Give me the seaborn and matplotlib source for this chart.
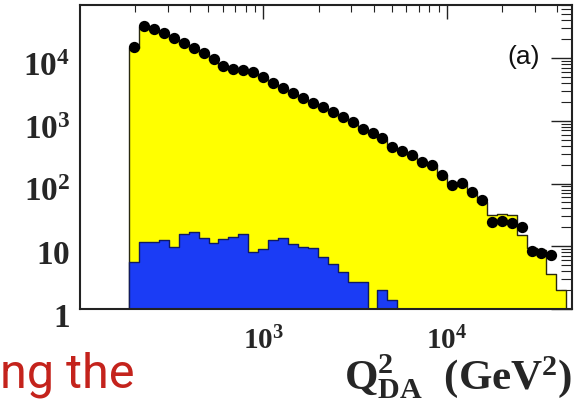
import numpy as np
import pandas as pd
import matplotlib
matplotlib.use("Agg")
import matplotlib.pyplot as plt
import matplotlib.transforms as mtrans
import seaborn as sns
from matplotlib.ticker import LogLocator, NullFormatter

# ---- data ----
q2_low, q2_high, n_bins = 185.0, 44700.0, 44

data_counts = [15000, 32400, 29000, 25000, 20800, 17300, 14400, 12000, 9640, 7460,
               6680, 6440, 5980, 4980, 4000, 3330, 2770, 2300, 1920, 1660,
               1380, 1150, 955, 739, 638, 531, 382, 330, 285, 220,
               197, 137, 95, 102, 73, 55, 24.3, 25.3, 23.5, 20.3,
               8.4, 7.8, 7.3]

mc_counts = [14200, 30800, 27900, 24300, 20300, 16900, 14100, 11700, 9400, 7300,
             6550, 6300, 5850, 4900, 3920, 3280, 2720, 2260, 1890, 1620,
             1360, 1130, 940, 730, 625, 520, 380, 325, 280, 218,
             194, 136, 97, 99, 72, 51, 32, 33, 32, 15.1,
             9.4, 8.7, 3.6, 2.0]

bg_counts = [5.6, 11.7, 11.7, 12.6, 9.7, 15.7, 16.9, 13.5, 11.3, 13.1,
             14.0, 15.7, 8.1, 9.0, 12.6, 13.5, 10.9, 9.7, 9.4, 6.7,
             5.2, 3.9, 2.7, 2.7, 0, 2.0, 1.4, 0, 0, 0,
             0, 0, 0, 0, 0, 0, 0, 0, 0, 0,
             0, 0, 0, 0]

x_tick_values = [1e3, 1e4]
x_tick_labels = [r"$\mathbf{10^{3}}$", r"$\mathbf{10^{4}}$"]
y_tick_values = [1, 10, 100, 1e3, 1e4]
y_tick_labels = [r"$\mathbf{1}$", r"$\mathbf{10}$", r"$\mathbf{10^{2}}$",
                 r"$\mathbf{10^{3}}$", r"$\mathbf{10^{4}}$"]

edges = np.geomspace(q2_low, q2_high, n_bins + 1)
centers = np.sqrt(edges[:-1] * edges[1:])
bin_edges = list(edges)

hist_df = pd.DataFrame({"q2": centers, "mc": mc_counts, "bg": bg_counts})
pts_df = pd.DataFrame({"q2": centers[:len(data_counts)], "n": data_counts})

# ---- style ----
sns.set_theme(style="white")
plt.rcParams["mathtext.fontset"] = "custom"
plt.rcParams["mathtext.rm"] = "Liberation Serif"
plt.rcParams["mathtext.bf"] = "Liberation Serif:bold"
plt.rcParams["mathtext.it"] = "Liberation Serif:italic"
plt.rcParams["font.family"] = ["Liberation Serif", "DejaVu Sans"]

fig = plt.figure(figsize=(5.77, 4.19), dpi=100)
ax = fig.add_axes([80 / 577, 110 / 419, 492 / 577, 304 / 419])

sns.histplot(data=hist_df, x="q2", weights="mc", bins=bin_edges, element="step", fill=True,
             color="#ffff00", alpha=1, edgecolor="#2a2a10", linewidth=1.0, ax=ax)
sns.histplot(data=hist_df, x="q2", weights="bg", bins=bin_edges, element="step", fill=True,
             color="#1b3cf5", alpha=1, edgecolor="#101a60", linewidth=1.0, ax=ax)
sns.scatterplot(data=pts_df, x="q2", y="n", color="black", s=66,
                edgecolor="black", linewidth=0, zorder=5, ax=ax)

ax.set_xscale("log")
ax.set_yscale("log")
ax.set_xlim(100, 4.8e4)
ax.set_ylim(1, 7e4)

ax.set_xticks(x_tick_values)
ax.set_xticklabels(x_tick_labels, fontsize=21)
ax.set_yticks(y_tick_values)
ax.set_yticklabels(y_tick_labels, fontsize=24)
ax.xaxis.set_minor_locator(LogLocator(base=10, subs=np.arange(2, 10)))
ax.yaxis.set_minor_locator(LogLocator(base=10, subs=np.arange(2, 10)))
ax.xaxis.set_minor_formatter(NullFormatter())
ax.yaxis.set_minor_formatter(NullFormatter())

ax.tick_params(which="both", direction="in", top=True, right=True, color="#222222")
ax.tick_params(axis="x", which="major", length=10, width=1.0, pad=13)
ax.tick_params(axis="x", which="minor", length=5, width=0.8)
ax.tick_params(axis="y", which="major", length=15, width=1.0, pad=7)
ax.tick_params(axis="y", which="minor", length=8, width=0.8)

for sp in ax.spines.values():
    sp.set_color("#222222")
    sp.set_linewidth(1.5)

ax.set_ylabel("")
ax.set_xlabel(r"$\mathbf{Q^{2}_{DA}}$  $\mathbf{(GeV^{2})}$", fontsize=31,
              loc="right", labelpad=-2)

shift = mtrans.ScaledTranslation(0, -6 / 100, fig.dpi_scale_trans)
for lab in ax.get_yticklabels():
    lab.set_transform(lab.get_transform() + shift)

ax.text(524 / 577, (419 - 57) / 419, "(a)", transform=fig.transFigure,
        ha="center", va="center", fontsize=19, family="Liberation Sans",
        color="#111111")

fig.text(0.0, (419 - 387) / 419, "ng the", ha="left", va="baseline",
         fontsize=35, family="Roboto", color="#c4231c")

fig.savefig("out.png", dpi=100)
